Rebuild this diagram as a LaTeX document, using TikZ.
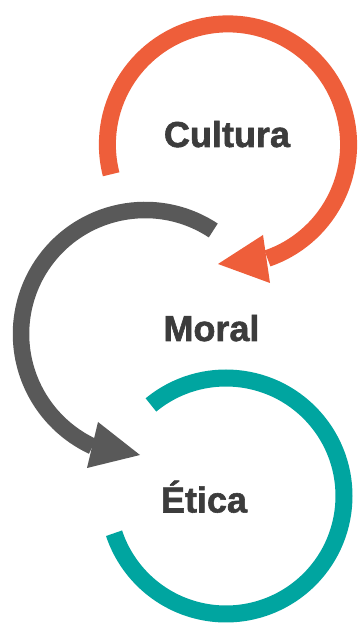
\documentclass[tikz,border=0pt]{standalone}
\usepackage{fontspec}
\setmainfont{Liberation Sans}
\newfontfamily\lblfont[BoldFeatures={FakeBold=1.6}]{Liberation Sans}
\definecolor{corange}{RGB}{238,94,58}
\definecolor{cgray}{RGB}{89,89,89}
\definecolor{cteal}{RGB}{0,165,160}
\definecolor{ctext}{RGB}{60,60,60}
\begin{document}
\begin{tikzpicture}[
  ring/.style={line width=17pt, line cap=butt},
  lbl/.style={anchor=base, text=ctext, font=\lblfont\bfseries\fontsize{36}{40}\selectfont, inner sep=0pt}
]
\useasboundingbox[fill=white] (0pt,0pt) rectangle (357pt,625pt);
% Orange ring with arrow
\coordinate (oc) at (228pt,480.5pt);
\draw[ring, corange] (oc) ++(194.3:120.6pt) arc[start angle=194.3, end angle=-70.9, radius=120.6pt];
\coordinate (oa) at (263pt,390pt);
\coordinate (ob) at (270pt,342pt);
\coordinate (ot) at (218pt,361pt);
\fill[corange] (oa) -- (ot) -- (ob) -- cycle;
% Gray ring with arrow
\coordinate (gc) at (145pt,291pt);
\draw[ring, cgray, line width=16.5pt] (gc) ++(56.6:124pt) arc[start angle=56.6, end angle=245, radius=124pt];
\coordinate (ga) at (98pt,203pt);
\coordinate (gb) at (87pt,157pt);
\coordinate (gt) at (140pt,170pt);
\fill[cgray] (ga) -- (gt) -- (gb) -- cycle;
% Teal ring
\coordinate (tc) at (226pt,129pt);
\draw[ring, cteal] (tc) ++(129.5:118pt) arc[start angle=129.5, end angle=-161.6, radius=118pt];
% Labels
\node[lbl] (cultura) at (227pt,478pt) {Cultura};
\node[lbl] (moral) at (211.5pt,284pt) {Moral};
\node[lbl] (etica) at (204pt,112.5pt) {Ética};
\end{tikzpicture}
\end{document}
